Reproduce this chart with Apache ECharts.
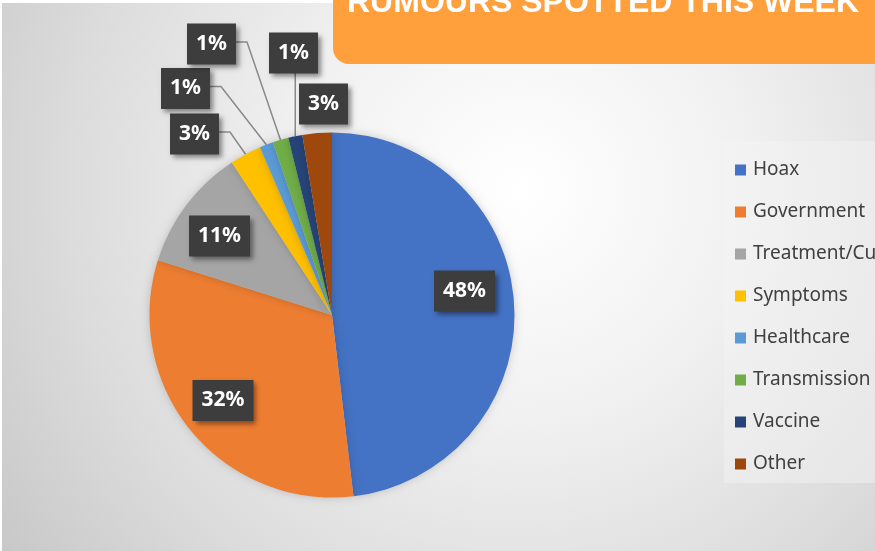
<!DOCTYPE html>
<html>
<head>
<meta charset="utf-8">
<script src="https://cdn.jsdelivr.net/npm/echarts@6/dist/echarts.min.js"></script>
<style>
  html, body { margin: 0; padding: 0; background: #ffffff; }
  #chart { width: 875px; height: 551px; }
</style>
</head>
<body>
<div id="chart"></div>
<script>
// ---- data ----
const categories = ['Hoax', 'Government', 'Treatment/Cure', 'Symptoms', 'Healthcare', 'Transmission', 'Vaccine', 'Other'];
const shares = [48.1, 31.7, 10.9, 2.8, 1.2, 1.4, 1.25, 2.6];
const titleText = 'RUMOURS SPOTTED THIS WEEK';

// ---- styling ----
const colors = ['#4472C4', '#ED7D31', '#A5A5A5', '#FFC000', '#5B9BD5', '#70AD47', '#264478', '#9E480E'];
// label box centres (px) and leader-line style per slice
const labelCentres = [[464.5, 291], [223, 400.5], [219.5, 236], [194.5, 134], [185.5, 88.5], [211.5, 44], [293.5, 53], [323.5, 104]];
const leader = [null, null, null, 'side', 'side', 'side', 'below', null];
const BOX_HW = 22.5, BOX_HH = 18.5;

const chart = echarts.init(document.getElementById('chart'), null, { renderer: 'canvas' });

const data = categories.map((name, i) => ({
  name: name,
  value: shares[i],
  itemStyle: { color: colors[i] },
  labelLine: { show: leader[i] !== null }
}));

chart.setOption({
  animation: false,
  graphic: [
    {
      type: 'rect', z: 0, silent: true,
      shape: { x: 2, y: 3, width: 880, height: 560 },
      style: {
        fill: {
          type: 'radial', x: 520, y: 190, r: 640, global: true,
          colorStops: [
            { offset: 0, color: '#ffffff' },
            { offset: 0.35, color: '#f1f1f1' },
            { offset: 0.7, color: '#dcdcdc' },
            { offset: 1, color: '#c7c7c7' }
          ]
        }
      }
    },
    {
      type: 'rect', z: 1, silent: true,
      shape: { x: 333, y: -30, width: 560, height: 94, r: [0, 0, 16, 16] },
      style: { fill: '#FFA03C' }
    },
    {
      type: 'text', z: 2, silent: true,
      x: 347, y: 3,
      style: {
        text: titleText,
        fill: '#ffffff',
        font: 'bold 32px "Liberation Sans", Arial, sans-serif',
        verticalAlign: 'middle',
        align: 'left'
      }
    }
  ],
  legend: {
    orient: 'vertical',
    left: 724,
    top: 141,
    padding: [18, 20, 8, 11],
    itemWidth: 11,
    itemHeight: 11,
    itemGap: 20,
    icon: 'rect',
    backgroundColor: 'rgba(245,245,245,0.45)',
    selectedMode: false,
    textStyle: {
      fontFamily: '"Noto Sans", sans-serif',
      fontSize: 19,
      lineHeight: 22,
      color: '#404040',
      padding: [0, 0, 0, 2]
    },
    data: categories
  },
  series: [{
    type: 'pie',
    center: [332, 315],
    radius: 182.5,
    startAngle: 90,
    clockwise: true,
    avoidLabelOverlap: false,
    silent: true,
    itemStyle: {
      shadowBlur: 8,
      shadowColor: 'rgba(0,0,0,0.18)'
    },
    label: {
      show: true,
      position: 'outside',
      formatter: p => Math.round(p.percent) + '%',
      color: '#ffffff',
      fontFamily: '"Noto Sans", sans-serif',
      fontWeight: 'bold',
      fontSize: 21,
      lineHeight: 23,
      backgroundColor: '#3d3d3d',
      padding: [10, 9, 8, 9],
      shadowColor: 'rgba(0,0,0,0.45)',
      shadowBlur: 5,
      shadowOffsetX: 3,
      shadowOffsetY: 3
    },
    labelLine: {
      show: true,
      lineStyle: { color: '#8a8a8a', width: 1.5 }
    },
    labelLayout: function (params) {
      const i = params.dataIndex;
      const c = labelCentres[i];
      const out = { x: c[0], y: c[1], align: 'center', verticalAlign: 'middle' };
      const pts = params.labelLinePoints;
      if (leader[i] && pts && pts.length) {
        const a = pts[0];
        if (leader[i] === 'side') {
          const yl = c[1] - 2;
          out.labelLinePoints = [[a[0], a[1]], [c[0] + BOX_HW + 13, yl], [c[0] + BOX_HW, yl]];
        } else {
          out.labelLinePoints = [[a[0], a[1]], [a[0], c[1] + BOX_HH]];
        }
      }
      return out;
    },
    data: data
  }]
});
</script>
</body>
</html>
